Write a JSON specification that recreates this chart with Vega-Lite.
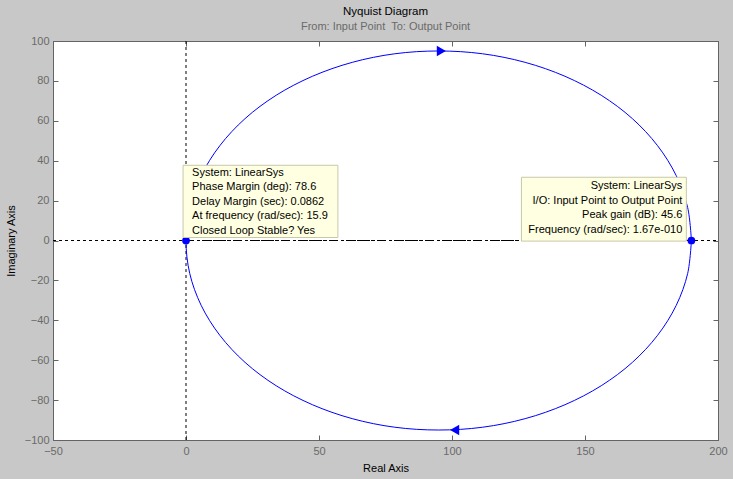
{
  "$schema": "https://vega.github.io/schema/vega-lite/v6.json",
  "autosize": {"type": "none"},
  "width": 665,
  "height": 399,
  "padding": {"left": 53, "top": 41, "right": 15, "bottom": 39},
  "background": "#c8c8c8",
  "config": {
    "font": "Liberation Sans",
    "view": {"fill": "white", "stroke": "#646464", "strokeWidth": 1},
    "axis": {"domainColor": "#646464", "tickColor": "#646464", "labelColor": "#6a6a6a", "labelFont": "Liberation Sans", "labelFontSize": 11, "titleFont": "Liberation Sans", "titleFontSize": 11, "titleFontWeight": "normal", "titleColor": "#000000", "grid": false}
  },
  "title": {
    "text": "Nyquist Diagram",
    "subtitle": "From: Input Point\u00a0 To: Output Point",
    "fontSize": 11.5,
    "fontWeight": "normal",
    "color": "#000000",
    "subtitleFontSize": 11,
    "subtitleColor": "#6a6a6a",
    "subtitlePadding": 4,
    "anchor": "middle",
    "offset": 3
  },
  "resolve": {"axis": {"x": "independent", "y": "independent"}},
  "layer": [
    {
      "data": {"values": [{"x": -50, "x2": 200}]},
      "mark": {"type": "rule", "color": "#000000", "strokeDash": [3, 3], "strokeWidth": 1},
      "encoding": {
        "x": {"field": "x", "type": "quantitative", "scale": {"domain": [-50, 200], "nice": false, "zero": false}, "axis": {"orient": "bottom", "values": [-50, 0, 50, 100, 150, 200], "tickSize": -5, "labelPadding": 10, "title": "Real Axis", "titlePadding": 6, "labelFlush": false}},
        "x2": {"field": "x2"},
        "y": {"datum": 0, "type": "quantitative", "scale": {"domain": [-100, 100], "nice": false}, "axis": {"orient": "left", "values": [-100, -80, -60, -40, -20, 0, 20, 40, 60, 80, 100], "tickSize": -5, "labelPadding": 9, "title": "Imaginary Axis", "titlePadding": 8, "labelFlush": false}}
      }
    },
    {
      "data": {"values": [{"y": -100, "y2": 100}]},
      "mark": {"type": "rule", "color": "#000000", "strokeDash": [3, 3], "strokeWidth": 1},
      "encoding": {
        "x": {"datum": 0, "type": "quantitative", "axis": {"orient": "top", "values": [-50, 0, 50, 100, 150, 200], "tickSize": -5, "labels": false, "title": null, "domain": false}},
        "y": {"field": "y", "type": "quantitative", "axis": {"orient": "right", "values": [-100, -80, -60, -40, -20, 0, 20, 40, 60, 80, 100], "tickSize": -5, "labels": false, "title": null, "domain": false}},
        "y2": {"field": "y2"}
      }
    },
    {
      "data": {"values": [{"x": 0, "x2": 190}]},
      "mark": {"type": "rule", "color": "#000000", "strokeDash": [8, 3, 2, 3], "strokeWidth": 1},
      "encoding": {
        "x": {"field": "x", "type": "quantitative", "axis": null},
        "x2": {"field": "x2"},
        "y": {"datum": 0, "type": "quantitative", "axis": null}
      }
    },
    {
      "data": {"values": [
        {"i": 0, "re": 190, "im": 0},
        {"i": 1, "re": 188.6, "im": -16.5},
        {"i": 2, "re": 184.3, "im": -32.5},
        {"i": 3, "re": 177.3, "im": -47.5},
        {"i": 4, "re": 167.8, "im": -61.1},
        {"i": 5, "re": 156.1, "im": -72.8},
        {"i": 6, "re": 142.5, "im": -82.3},
        {"i": 7, "re": 127.5, "im": -89.3},
        {"i": 8, "re": 111.5, "im": -93.6},
        {"i": 9, "re": 95, "im": -95},
        {"i": 10, "re": 78.5, "im": -93.6},
        {"i": 11, "re": 62.5, "im": -89.3},
        {"i": 12, "re": 47.5, "im": -82.3},
        {"i": 13, "re": 33.9, "im": -72.8},
        {"i": 14, "re": 22.2, "im": -61.1},
        {"i": 15, "re": 12.7, "im": -47.5},
        {"i": 16, "re": 5.7, "im": -32.5},
        {"i": 17, "re": 1.4, "im": -16.5},
        {"i": 18, "re": 0, "im": 0},
        {"i": 19, "re": 1.4, "im": 16.5},
        {"i": 20, "re": 5.7, "im": 32.5},
        {"i": 21, "re": 12.7, "im": 47.5},
        {"i": 22, "re": 22.2, "im": 61.1},
        {"i": 23, "re": 33.9, "im": 72.8},
        {"i": 24, "re": 47.5, "im": 82.3},
        {"i": 25, "re": 62.5, "im": 89.3},
        {"i": 26, "re": 78.5, "im": 93.6},
        {"i": 27, "re": 95, "im": 95},
        {"i": 28, "re": 111.5, "im": 93.6},
        {"i": 29, "re": 127.5, "im": 89.3},
        {"i": 30, "re": 142.5, "im": 82.3},
        {"i": 31, "re": 156.1, "im": 72.8},
        {"i": 32, "re": 167.8, "im": 61.1},
        {"i": 33, "re": 177.3, "im": 47.5},
        {"i": 34, "re": 184.3, "im": 32.5},
        {"i": 35, "re": 188.6, "im": 16.5},
        {"i": 36, "re": 190, "im": 0}
      ]},
      "mark": {"type": "line", "color": "#0000ff", "strokeWidth": 1, "interpolate": "catmull-rom"},
      "encoding": {
        "x": {"field": "re", "type": "quantitative", "axis": null},
        "y": {"field": "im", "type": "quantitative", "axis": null},
        "order": {"field": "i"}
      }
    },
    {
      "data": {"values": [{"re": 96, "im": 95, "dir": "right"}]},
      "mark": {"type": "point", "shape": "triangle-right", "filled": true, "color": "#0000ff", "size": 110, "opacity": 1},
      "encoding": {
        "x": {"field": "re", "type": "quantitative", "axis": null},
        "y": {"field": "im", "type": "quantitative", "axis": null}
      }
    },
    {
      "data": {"values": [{"re": 101, "im": -95, "dir": "left"}]},
      "mark": {"type": "point", "shape": "triangle-left", "filled": true, "color": "#0000ff", "size": 110, "opacity": 1},
      "encoding": {
        "x": {"field": "re", "type": "quantitative", "axis": null},
        "y": {"field": "im", "type": "quantitative", "axis": null}
      }
    },
    {
      "data": {"values": [{"re": 0, "im": 0}, {"re": 190, "im": 0}]},
      "mark": {"type": "point", "shape": "circle", "filled": true, "color": "#0000ff", "size": 60, "opacity": 1},
      "encoding": {
        "x": {"field": "re", "type": "quantitative", "axis": null},
        "y": {"field": "im", "type": "quantitative", "axis": null}
      }
    },
    {
      "data": {"values": [
        {"x": -1.1, "x2": 57.1, "y": 37.7, "y2": 1.5},
        {"x": 126.1, "x2": 188.1, "y": 31.7, "y2": -0.3}
      ]},
      "mark": {"type": "rect", "fill": "#ffffe1", "stroke": "#c8c8a8", "strokeWidth": 1},
      "encoding": {
        "x": {"field": "x", "type": "quantitative", "axis": null},
        "x2": {"field": "x2"},
        "y": {"field": "y", "type": "quantitative", "axis": null},
        "y2": {"field": "y2"}
      }
    },
    {
      "data": {"values": [
        {"x": 2.3, "y": 33.7, "t": "System: LinearSys"},
        {"x": 2.3, "y": 26.6, "t": "Phase Margin (deg): 78.6"},
        {"x": 2.3, "y": 19.3, "t": "Delay Margin (sec): 0.0862"},
        {"x": 2.3, "y": 12.2, "t": "At frequency (rad/sec): 15.9"},
        {"x": 2.3, "y": 5.0, "t": "Closed Loop Stable? Yes"}
      ]},
      "mark": {"type": "text", "align": "left", "baseline": "middle", "font": "Liberation Sans", "fontSize": 11, "color": "#000000"},
      "encoding": {
        "x": {"field": "x", "type": "quantitative", "axis": null},
        "y": {"field": "y", "type": "quantitative", "axis": null},
        "text": {"field": "t"}
      }
    },
    {
      "data": {"values": [
        {"x": 186.6, "y": 27.1, "t": "System: LinearSys"},
        {"x": 186.6, "y": 20.0, "t": "I/O: Input Point to Output Point"},
        {"x": 186.6, "y": 12.7, "t": "Peak gain (dB): 45.6"},
        {"x": 186.6, "y": 5.5, "t": "Frequency (rad/sec): 1.67e-010"}
      ]},
      "mark": {"type": "text", "align": "right", "baseline": "middle", "font": "Liberation Sans", "fontSize": 11, "color": "#000000"},
      "encoding": {
        "x": {"field": "x", "type": "quantitative", "axis": null},
        "y": {"field": "y", "type": "quantitative", "axis": null},
        "text": {"field": "t"}
      }
    }
  ]
}
